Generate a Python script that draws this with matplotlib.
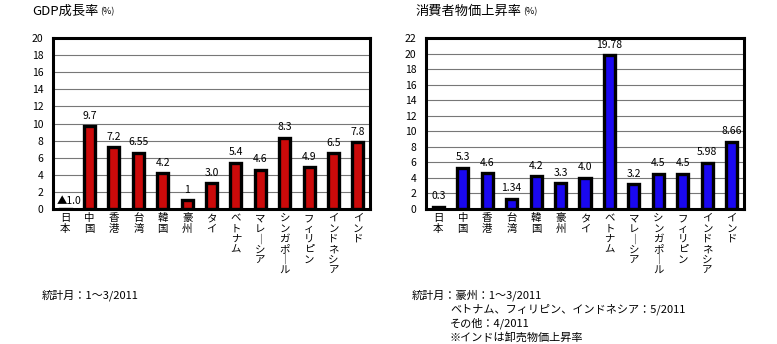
import matplotlib
matplotlib.use("Agg")
import matplotlib.pyplot as plt

plt.rcParams['font.family'] = ['Noto Sans CJK JP', 'DejaVu Sans']

countries = ["日本", "中国", "香港", "台湾", "韓国", "豪州", "タイ", "ベトナム",
             "マレーシア", "シンガポール", "フィリピン", "インドネシア", "インド"]

gdp = [-1.0, 9.7, 7.2, 6.55, 4.2, 1, 3.0, 5.4, 4.6, 8.3, 4.9, 6.5, 7.8]
gdp_text = ["▲1.0", "9.7", "7.2", "6.55", "4.2", "1", "3.0", "5.4", "4.6", "8.3", "4.9", "6.5", "7.8"]

cpi = [0.3, 5.3, 4.6, 1.34, 4.2, 3.3, 4.0, 19.78, 3.2, 4.5, 4.5, 5.98, 8.66]
cpi_text = ["0.3", "5.3", "4.6", "1.34", "4.2", "3.3", "4.0", "19.78", "3.2", "4.5", "4.5", "5.98", "8.66"]


def vertical(s):
    # stack characters top to bottom, long vowel mark turned upright
    return "\n".join("｜" if c == "ー" else c for c in s)


def draw(ax, vals, texts, color, ymax):
    x = range(len(vals))
    ax.bar(x, vals, width=0.45, color=color, edgecolor="black", linewidth=2.4, zorder=3)
    ax.set_xlim(-0.5, len(vals) - 0.5)
    ax.set_ylim(0, ymax)
    ax.set_yticks(range(0, ymax + 1, 2))
    ax.yaxis.grid(True, color="#777777", linewidth=0.8, zorder=0)
    ax.tick_params(axis="y", length=0, labelsize=7.5, pad=7)
    ax.tick_params(axis="x", length=0, pad=3)
    ax.set_xticks(list(x))
    ax.set_xticklabels([vertical(c) for c in countries], fontsize=7.5,
                       linespacing=1.05, va="top")
    for s in ax.spines.values():
        s.set_linewidth(2.2)
    for i, (v, t) in enumerate(zip(vals, texts)):
        if v < 0:
            # negative value: bar falls below the axis, label sits on the baseline
            ax.text(i + 0.15, 0.35, t, ha="center", va="bottom", fontsize=7.5)
        else:
            ax.annotate(t, (i, v), xytext=(0, 4), textcoords="offset points",
                        ha="center", va="bottom", fontsize=7.5)


def title(ax, x, s):
    t = ax.figure.text(x / 777, 1 - 11 / 344, s, fontsize=9.5, va="center")
    ax.annotate("(%)", xy=(1, 0.45), xycoords=t, xytext=(1, 0),
                textcoords="offset points", fontsize=6.5, va="center",
                annotation_clip=False)


fig = plt.figure(figsize=(7.77, 3.44), dpi=100)
ax1 = fig.add_axes([53 / 777, 1 - 209 / 344, 317 / 777, 171 / 344])
ax2 = fig.add_axes([426 / 777, 1 - 209 / 344, 318 / 777, 171 / 344])

draw(ax1, gdp, gdp_text, "#CC0A0A", 20)
draw(ax2, cpi, cpi_text, "#1A08F0", 22)

title(ax1, 32, "GDP成長率")
title(ax2, 416, "消費者物価上昇率")

fig.text(42 / 777, 1 - 295 / 344, "統計月：1～3/2011", fontsize=8, va="center")
fig.text(412 / 777, 1 - 295 / 344, "統計月：豪州：1～3/2011", fontsize=8, va="center")
fig.text(450 / 777, 1 - 309 / 344, "ベトナム、フィリピン、インドネシア：5/2011", fontsize=8, va="center")
fig.text(450 / 777, 1 - 323 / 344, "その他：4/2011", fontsize=8, va="center")
fig.text(450 / 777, 1 - 337 / 344, "※インドは卸売物価上昇率", fontsize=8, va="center")

fig.savefig("out.png", dpi=100)
